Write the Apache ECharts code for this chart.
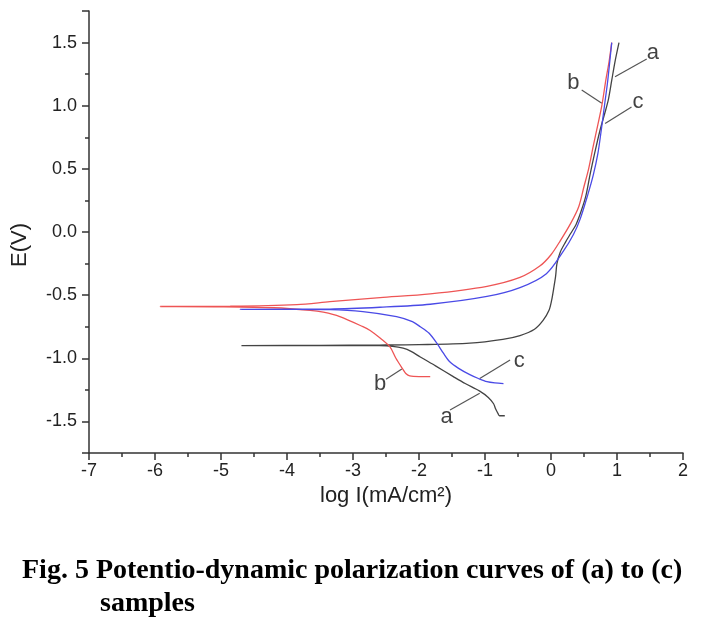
<!DOCTYPE html>
<html><head><meta charset="utf-8">
<script src="https://cdn.jsdelivr.net/npm/echarts@6/dist/echarts.min.js"></script>
<style>html,body{margin:0;padding:0;background:#fff}#c{width:706px;height:624px}</style>
</head><body><div id="c"></div>
<script>
// ---- data (log I in mA/cm^2, E in V) ----
const yTickLabels = [-1.5, -1.0, -0.5, 0.0, 0.5, 1.0, 1.5];
const xTickLabels = [-7, -6, -5, -4, -3, -2, -1, 0, 1, 2];

// sample (a): cathodic branch (from bottom up to Ecorr) then anodic branch
const curveA = [
  [-0.70,-1.455],[-0.78,-1.455],[-0.80,-1.44],[-0.84,-1.40],[-0.87,-1.36],[-0.95,-1.31],
  [-1.08,-1.26],[-1.30,-1.20],[-1.48,-1.145],[-1.75,-1.06],[-1.98,-0.99],[-2.12,-0.945],
  [-2.24,-0.92],[-2.40,-0.905],[-2.60,-0.90],[-3.50,-0.90],[-4.69,-0.90],
  [-3.50,-0.897],[-2.60,-0.895],[-2.00,-0.892],[-1.23,-0.88],[-0.73,-0.85],[-0.47,-0.82],
  [-0.25,-0.77],[-0.12,-0.70],[-0.03,-0.62],[0.01,-0.54],[0.04,-0.45],[0.07,-0.35],
  [0.09,-0.25],[0.14,-0.16],[0.22,-0.08],[0.30,-0.01],[0.38,0.06],[0.46,0.17],
  [0.53,0.29],[0.59,0.45],[0.66,0.62],[0.74,0.80],[0.82,0.95],[0.87,1.05],
  [0.92,1.20],[0.97,1.35],[1.03,1.50]
];
// sample (b)
const curveB = [
  [-1.83,-1.145],[-2.00,-1.145],[-2.14,-1.14],[-2.20,-1.12],[-2.24,-1.09],[-2.35,-1.00],
  [-2.44,-0.91],[-2.59,-0.84],[-2.74,-0.78],[-2.85,-0.75],[-3.20,-0.67],[-3.45,-0.635],
  [-3.65,-0.62],[-4.20,-0.60],[-5.00,-0.592],[-5.92,-0.59],
  [-4.86,-0.588],[-3.85,-0.575],[-3.35,-0.552],[-2.59,-0.52],[-1.83,-0.49],[-0.97,-0.43],
  [-0.47,-0.36],[-0.17,-0.27],[0.00,-0.18],[0.14,-0.07],[0.30,0.07],[0.42,0.20],
  [0.50,0.36],[0.57,0.50],[0.64,0.68],[0.71,0.85],[0.77,1.00],[0.83,1.20],
  [0.88,1.35],[0.92,1.50]
];
// sample (c)
const curveC = [
  [-0.72,-1.20],[-0.85,-1.195],[-0.97,-1.185],[-1.10,-1.16],[-1.23,-1.13],[-1.40,-1.08],
  [-1.53,-1.03],[-1.63,-0.96],[-1.73,-0.88],[-1.85,-0.80],[-1.98,-0.75],[-2.10,-0.71],
  [-2.34,-0.67],[-2.85,-0.63],[-3.35,-0.615],[-4.00,-0.613],[-4.71,-0.612],
  [-3.35,-0.61],[-2.59,-0.596],[-1.83,-0.572],[-0.97,-0.51],[-0.47,-0.44],[-0.07,-0.33],
  [0.19,-0.15],[0.34,-0.02],[0.44,0.10],[0.56,0.30],[0.64,0.45],[0.71,0.62],
  [0.76,0.80],[0.81,1.00],[0.86,1.20],[0.92,1.50]
];

// curve tags and their leader lines
const tagNames = ['a', 'b', 'c', 'a', 'b', 'c'];
const tagPos = [[1.545,1.417],[0.34,1.178],[1.32,1.03],[-1.58,-1.467],[-2.59,-1.20],[-0.48,-1.02]];
const leaderLines = [
  [[1.45,1.37],[0.97,1.23]],
  [[0.465,1.125],[0.77,1.02]],
  [[1.22,0.99],[0.82,0.86]],
  [[-1.53,-1.41],[-1.08,-1.277]],
  [[-2.50,-1.166],[-2.26,-1.085]],
  [[-0.62,-1.013],[-1.08,-1.16]]
];

const seriesNames = ['a', 'b', 'c'];
const seriesColors = ['#444444', '#ee5555', '#4a4ae6'];

const chart = echarts.init(document.getElementById('c'), null, {renderer: 'canvas'});
const fontSans = 'Liberation Sans, Arial, sans-serif';
const fontSerif = 'Liberation Serif, Times New Roman, serif';
const axisCol = '#333';

const option = {
  backgroundColor: '#fff',
  animation: false,
  title: [
    {text: 'Fig. 5 Potentio-dynamic polarization curves of (a) to (c)', left: 17, top: 552,
     textStyle: {fontFamily: fontSerif, fontWeight: 'bold', fontSize: 28, color: '#000'}},
    {text: 'samples', left: 95, top: 585,
     textStyle: {fontFamily: fontSerif, fontWeight: 'bold', fontSize: 28, color: '#000'}}
  ],
  grid: {left: 89, top: 11, right: 23, bottom: 171, containLabel: false},
  xAxis: {
    type: 'value', min: -7, max: 2, interval: 1,
    name: 'log I(mA/cm²)', nameLocation: 'middle', nameGap: 27,
    nameTextStyle: {fontFamily: fontSans, fontSize: 22, color: '#222'},
    axisLine: {show: true, onZero: false, lineStyle: {color: axisCol, width: 1.5}},
    axisTick: {show: true, length: 7, lineStyle: {color: axisCol, width: 1.5}},
    minorTick: {show: true, splitNumber: 2, length: 4, lineStyle: {color: axisCol, width: 1.5}},
    axisLabel: {margin: 9, fontFamily: fontSans, fontSize: 18, color: '#222',
      formatter: v => xTickLabels.indexOf(v) >= 0 ? String(v) : ''},
    splitLine: {show: false}
  },
  yAxis: [
    {
      type: 'value', min: -1.75, max: 1.75, interval: 0.25,
      name: 'E(V)', nameLocation: 'middle', nameGap: 58, nameRotate: 90,
      nameTextStyle: {fontFamily: fontSans, fontSize: 22, color: '#222', padding: [0, 26, 0, 0]},
      axisLine: {show: true, onZero: false, lineStyle: {color: axisCol, width: 1.5}},
      axisTick: {show: true, length: 4, lineStyle: {color: axisCol, width: 1.5}},
      axisLabel: {show: false},
      splitLine: {show: false}
    },
    {
      type: 'value', min: -1.75, max: 1.75, splitNumber: 7, position: 'left',
      axisLine: {show: false, onZero: false},
      axisTick: {show: true, length: 7, lineStyle: {color: axisCol, width: 1.5}},
      axisLabel: {margin: 12, fontFamily: fontSans, fontSize: 18, color: '#222',
        formatter: v => {
          const hit = yTickLabels.find(t => Math.abs(t - v) < 1e-6);
          return hit === undefined ? '' : hit.toFixed(1);
        }},
      splitLine: {show: false}
    }
  ],
  series: [
    ...[curveA, curveB, curveC].map((d, i) => ({
      name: seriesNames[i], type: 'line', data: d, yAxisIndex: 0,
      showSymbol: false, symbol: 'none', smooth: 0.3,
      lineStyle: {color: seriesColors[i], width: 1.3}
    })),
    {
      type: 'lines', coordinateSystem: 'cartesian2d', yAxisIndex: 0,
      data: leaderLines.map(c => ({coords: c})),
      lineStyle: {color: '#555', width: 1.2, opacity: 1}, silent: true
    },
    {
      type: 'scatter', yAxisIndex: 0, symbolSize: 0,
      data: tagPos.map((p, i) => ({value: p, name: tagNames[i]})),
      label: {show: true, position: 'inside', formatter: p => p.name,
        fontFamily: fontSans, fontSize: 22, color: '#111'},
      silent: true
    }
  ]
};
chart.setOption(option);
</script></body></html>
